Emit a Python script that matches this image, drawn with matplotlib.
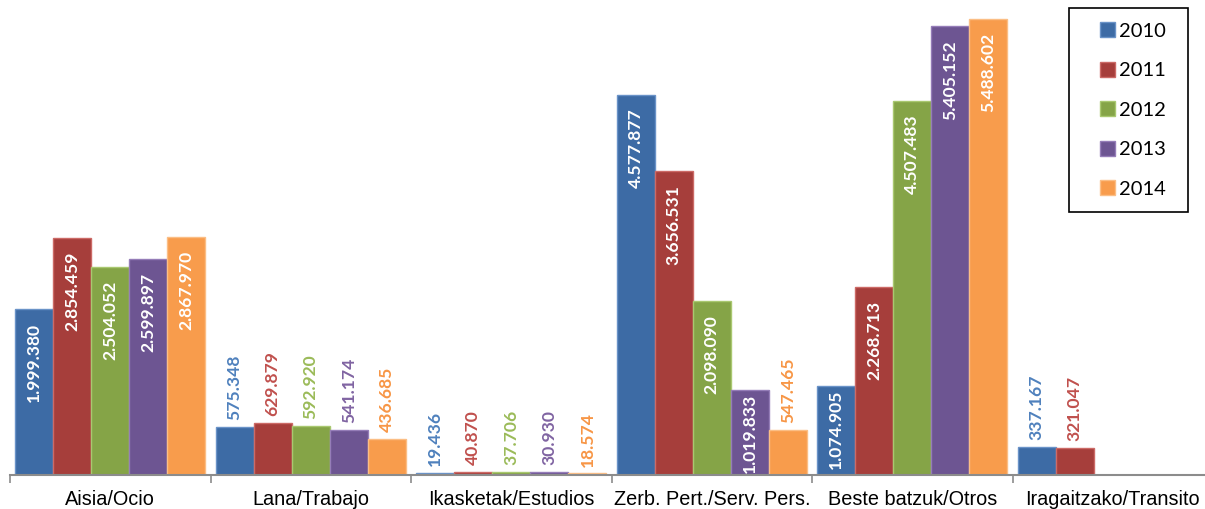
import numpy as np
import matplotlib
matplotlib.use("Agg")
import matplotlib.pyplot as plt
from matplotlib.patches import Patch, Rectangle

# data
categories = ["Aisia/Ocio", "Lana/Trabajo", "Ikasketak/Estudios",
              "Zerb. Pert./Serv. Pers.", "Beste batzuk/Otros", "Iragaitzako/Transito"]
years = ["2010", "2011", "2012", "2013", "2014"]
v2010 = [1999380, 575348, 19436, 4577877, 1074905, 337167]
v2011 = [2854459, 629879, 40870, 3656531, 2268713, 321047]
v2012 = [2504052, 592920, 37706, 2098090, 4507483, 0]
v2013 = [2599897, 541174, 30930, 1019833, 5405152, 0]
v2014 = [2867970, 436685, 18574, 547465, 5488602, 0]
series = [v2010, v2011, v2012, v2013, v2014]

bar_colors = ["#3D6BA5", "#A63E3B", "#85A447", "#6D5592", "#F89C4C"]
edge_colors = ["#6A93C8", "#CC6A66", "#A9C870", "#957DB8", "#FBBE85"]
label_colors = ["#4F81BD", "#C0504D", "#9BBB59", "#8064A2", "#F79646"]


def fmt(v):
    return f"{v:,}".replace(",", ".")


fig = plt.figure(figsize=(12.05, 5.09), dpi=100)
ax = fig.add_axes([10 / 1205, 34 / 509, 1203 / 1205, 475 / 509])

x = np.arange(len(categories))
w = 0.19
for i, vals in enumerate(series):
    xs = x + (i - 2) * w
    for xi, v in zip(xs, vals):
        if v <= 0:
            continue
        ax.bar(xi, v, width=w, color=bar_colors[i], edgecolor=edge_colors[i], linewidth=1.0)
        if v > 1e6:
            # smaller bars get less top padding so the label fits
            pad = -10 if v > 1.5e6 else -2.5
            ax.annotate(fmt(v), (xi, v), xytext=(0, pad), textcoords="offset points",
                        rotation=90, ha="center", va="top", color="white",
                        fontsize=12.6, fontweight="bold", family="Lato")
        else:
            ax.annotate(fmt(v), (xi, v), xytext=(0, 5), textcoords="offset points",
                        rotation=90, ha="center", va="bottom", color=label_colors[i],
                        fontsize=12.6, fontweight="bold", family="Lato")

ax.set_xlim(-0.5, len(categories) - 0.5)
ax.set_ylim(0, 5.72e6)
for s in ["top", "right", "left"]:
    ax.spines[s].set_visible(False)
ax.spines["bottom"].set_color("#8C8C8C")
ax.spines["bottom"].set_linewidth(1.5)
ax.set_yticks([])
ax.set_xticks(x)
ax.set_xticklabels(categories, fontsize=14.3, family="Liberation Sans")
ax.tick_params(axis="x", which="major", length=0, pad=11)
ax.set_xticks(np.arange(-0.5, len(categories)), minor=True)
ax.tick_params(axis="x", which="minor", length=6, color="#8C8C8C", width=1.2)

# legend box drawn separately so its size matches
fig.patches.append(Rectangle((1069 / 1205, 1 - 212 / 509), 119 / 1205, 204 / 509,
                             transform=fig.transFigure, fill=False,
                             edgecolor="black", linewidth=1.2))
handles = [Patch(facecolor=bar_colors[i], edgecolor=edge_colors[i]) for i in range(5)]
leg = fig.legend(handles, years, loc="center", bbox_to_anchor=(1133 / 1205, 1 - 110 / 509),
                 frameon=False, prop={"family": "Lato", "size": 14.5},
                 labelspacing=1.1, handlelength=0.75, handleheight=0.75,
                 handletextpad=0.2, borderpad=0, borderaxespad=0)

fig.savefig("out.png", dpi=100)
